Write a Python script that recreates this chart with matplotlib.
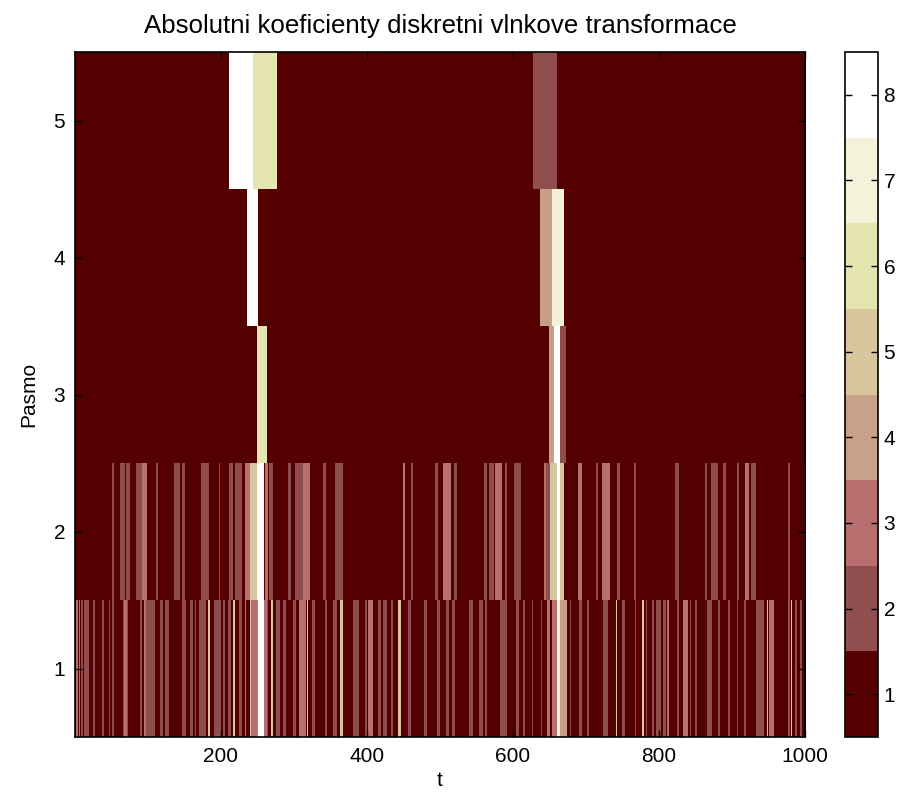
import numpy as np
import matplotlib
matplotlib.use("Agg")
import matplotlib.pyplot as plt
from matplotlib.colors import ListedColormap

# level of each band outside the listed stripes
background = 1
n_t = 1000

# stripes per band: (t_start, t_end, level)
band5 = [(210, 243, 8), (243, 276, 6), (627, 660, 2)]
band4 = [(235, 251, 8), (636, 652, 4), (652, 669, 7)]
band3 = [(249, 263, 6), (649, 655, 4), (655, 663, 8), (663, 671, 2)]
band2 = [(51, 53, 2), (62, 68, 2), (70, 75, 2), (84, 92, 2), (92, 98, 3),
         (111, 114, 2), (136, 144, 2), (147, 150, 2), (172, 183, 2), (197, 199, 2),
         (210, 216, 2), (219, 228, 2), (232, 240, 3), (240, 249, 5), (249, 259, 8),
         (260, 264, 3), (266, 271, 2), (292, 295, 2), (301, 312, 2), (312, 322, 3),
         (339, 344, 2), (356, 366, 2), (449, 452, 3), (460, 463, 2), (493, 496, 2),
         (504, 515, 3), (519, 522, 2), (559, 564, 2), (566, 573, 2), (575, 584, 3),
         (588, 591, 2), (600, 610, 2), (641, 645, 3), (645, 650, 2), (650, 660, 5),
         (660, 663, 8), (663, 669, 5), (688, 694, 3), (713, 716, 2), (721, 732, 3),
         (741, 745, 2), (765, 767, 2), (821, 826, 2), (862, 865, 2), (870, 879, 2),
         (887, 890, 2), (905, 909, 2), (917, 922, 3), (925, 931, 2), (975, 978, 2),
         (997, 1000, 3)]
band1 = [(1, 4, 3), (5, 7, 3), (8, 11, 2), (12, 19, 2), (24, 27, 2), (37, 40, 2),
         (46, 48, 2), (51, 53, 2), (65, 73, 2), (67, 71, 3), (89, 91, 2), (94, 97, 3),
         (97, 109, 2), (116, 120, 2), (123, 128, 2), (147, 152, 2), (158, 161, 2),
         (164, 166, 2), (170, 179, 2), (182, 185, 5), (190, 200, 2), (202, 205, 2),
         (209, 213, 2), (216, 219, 5), (225, 229, 2), (232, 234, 3), (239, 241, 5),
         (241, 251, 3), (251, 258, 8), (259, 262, 3), (262, 264, 2), (268, 271, 5),
         (275, 280, 2), (285, 288, 2), (298, 303, 2), (307, 316, 3), (317, 319, 5),
         (324, 328, 2), (342, 345, 2), (353, 359, 2), (363, 366, 5), (380, 388, 2),
         (397, 399, 2), (401, 407, 3), (415, 419, 2), (421, 427, 2), (432, 435, 2),
         (442, 446, 5), (456, 460, 2), (478, 481, 2), (495, 500, 2), (507, 512, 2),
         (516, 520, 2), (539, 545, 2), (552, 558, 2), (561, 564, 2), (581, 591, 2),
         (603, 608, 2), (613, 616, 2), (625, 627, 2), (637, 639, 2), (646, 650, 3),
         (652, 655, 3), (655, 659, 3), (659, 663, 7), (663, 673, 4), (677, 679, 2),
         (690, 694, 2), (701, 703, 2), (722, 729, 2), (740, 742, 5), (748, 753, 2),
         (766, 768, 2), (775, 778, 5), (781, 783, 2), (789, 792, 2), (795, 801, 2),
         (805, 808, 2), (810, 813, 3), (823, 826, 2), (832, 838, 3), (841, 843, 2),
         (848, 851, 2), (865, 871, 2), (879, 882, 2), (893, 896, 2), (905, 907, 2),
         (915, 918, 2), (932, 942, 2), (946, 948, 5), (950, 956, 3), (975, 978, 2),
         (979, 981, 5), (985, 988, 2), (992, 995, 2)]

bands = [band1, band2, band3, band4, band5]
levels = np.arange(1, 9)

# MATLAB pink(8): sqrt((2*gray + hot)/3)
n = len(levels)
gray = np.linspace(0, 1, n)
k = int(3 * n / 8)
hot_r = np.r_[np.arange(1, k + 1) / k, np.ones(n - k)]
hot_g = np.r_[np.zeros(k), np.arange(1, k + 1) / k, np.ones(n - 2 * k)]
hot_b = np.r_[np.zeros(2 * k), np.arange(1, n - 2 * k + 1) / (n - 2 * k)]
pink = np.sqrt((2 * gray[:, None] + np.c_[hot_r, hot_g, hot_b]) / 3)
cmap = ListedColormap(pink)

M = np.full((len(bands), n_t), background, dtype=float)
for i, stripes in enumerate(bands):
    for a, b, v in stripes:
        M[i, a:b] = v

plt.rcParams['font.family'] = ['Liberation Sans', 'DejaVu Sans']
plt.rcParams['font.size'] = 15

fig = plt.figure(figsize=(9.18, 8.01), dpi=100)
ax = fig.add_axes([75 / 918, 1 - 737 / 801, 730 / 918, 685 / 801])
im = ax.imshow(M, cmap=cmap, vmin=0.5, vmax=8.5, aspect='auto', origin='lower',
               extent=(0.5, n_t + 0.5, 0.5, len(bands) + 0.5), interpolation='nearest')
ax.set_xticks([200, 400, 600, 800, 1000])
ax.set_yticks(np.arange(1, len(bands) + 1))
ax.tick_params(direction='in', top=True, right=True, length=5, width=1, pad=7)
ax.set_xlabel('t', labelpad=4)
ax.set_ylabel('Pasmo', labelpad=11)
ax.set_title('Absolutni koeficienty diskretni vlnkove transformace', pad=14,
             fontsize=18.6)
for s in ax.spines.values():
    s.set_linewidth(1.2)

cax = fig.add_axes([845 / 918, 1 - 737 / 801, 33 / 918, 685 / 801])
cb = fig.colorbar(im, cax=cax, ticks=levels)
cb.ax.tick_params(direction='in', left=True, right=True, length=5, width=1, pad=4)
cb.outline.set_linewidth(1.2)

fig.savefig('out.png', dpi=100)
